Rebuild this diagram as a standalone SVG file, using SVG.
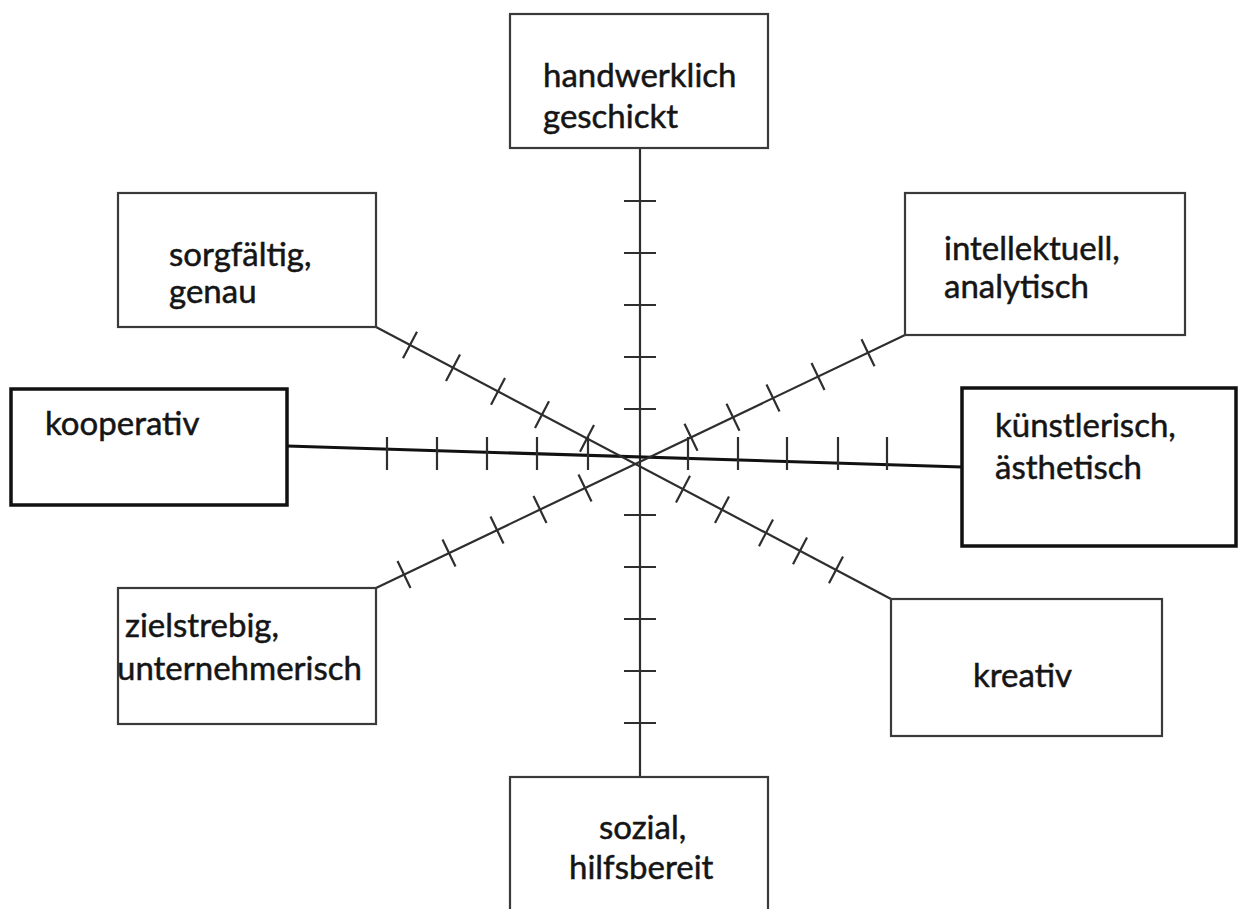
<svg xmlns="http://www.w3.org/2000/svg" width="1238" height="909" viewBox="0 0 1238 909">
<style>
.box{fill:#fff;stroke:#3a3a3a;stroke-width:2.2}
.boxb{fill:#fff;stroke:#111;stroke-width:3.5}
.t{font-family:Lato,"Open Sans","Liberation Sans",sans-serif;font-size:33px;fill:#151515;stroke:#151515;stroke-width:0.5}
.ln{stroke:#2e2e2e;stroke-width:2.2;fill:none}
.lnb{stroke:#111;stroke-width:3;fill:none}
</style>
<rect width="1238" height="909" fill="#fff"/>
<g id="connectors">
<line class="ln" x1="640" y1="148" x2="640" y2="777"/>
<path class="ln" d="M624 201H656M624 253H656M624 305H656M624 357H656M624 409H656M624 515H656M624 567H656M624 619H656M624 671H656M624 723H656"/>
<line class="lnb" x1="287" y1="446" x2="962" y2="467"/>
<path class="ln" d="M387 437V470M437 437V470M487 437V470M537 437V470M588 437V470M688 437V470M738 437V470M787 437V470M838 437V470M887 437V470"/>
<line class="ln" x1="376" y1="327" x2="891" y2="599"/>
<path class="ln" d="M417 331.7L403 358.3M460 354.4L446 381M505 378.1L491 404.7M549 401.3L535 427.9M594 425.1L580 451.7M690 475.8L676 502.4M729 496.4L715 523M773 519.6L759 546.2M807 537.6L793 564.2M843 556.6L829 583.2"/>
<line class="ln" x1="905" y1="335" x2="376" y2="588"/>
<path class="ln" d="M861.5 339.2L874.5 366.2M811.5 363.1L824.5 390.1M766.5 384.6L779.5 411.6M726.5 403.7L739.5 430.7M684.5 423.8L697.5 450.8M578.5 474.5L591.5 501.5M533.5 496L546.5 523M490.5 516.5L503.5 543.5M442.5 539.5L455.5 566.5M397.5 561L410.5 588"/>
</g>
<g id="n-handwerklich"><rect class="box" x="510" y="14" width="258" height="134"/><text class="t" x="543" y="87">handwerklich</text><text class="t" x="543" y="128">geschickt</text></g>
<g id="n-sorgfaeltig"><rect class="box" x="118" y="193" width="258" height="134"/><text class="t" x="169" y="266">sorgfältig,</text><text class="t" x="169" y="303">genau</text></g>
<g id="n-intellektuell"><rect class="box" x="905" y="193" width="280" height="142"/><text class="t" x="944" y="260">intellektuell,</text><text class="t" x="944" y="298">analytisch</text></g>
<g id="n-kooperativ"><rect class="boxb" x="11" y="389" width="276" height="116"/><text class="t" x="45" y="435">kooperativ</text></g>
<g id="n-kuenstlerisch"><rect class="boxb" x="962" y="388" width="274" height="158"/><text class="t" x="995" y="437">künstlerisch,</text><text class="t" x="995" y="479">ästhetisch</text></g>
<g id="n-zielstrebig"><rect class="box" x="118" y="588" width="258" height="136"/><text class="t" x="125" y="637">zielstrebig,</text><text class="t" x="117" y="680">unternehmerisch</text></g>
<g id="n-kreativ"><rect class="box" x="891" y="599" width="271" height="137"/><text class="t" x="973" y="687">kreativ</text></g>
<g id="n-sozial"><rect class="box" x="510" y="777" width="258" height="150"/><text class="t" x="599" y="839">sozial,</text><text class="t" x="569" y="879">hilfsbereit</text></g>
</svg>
